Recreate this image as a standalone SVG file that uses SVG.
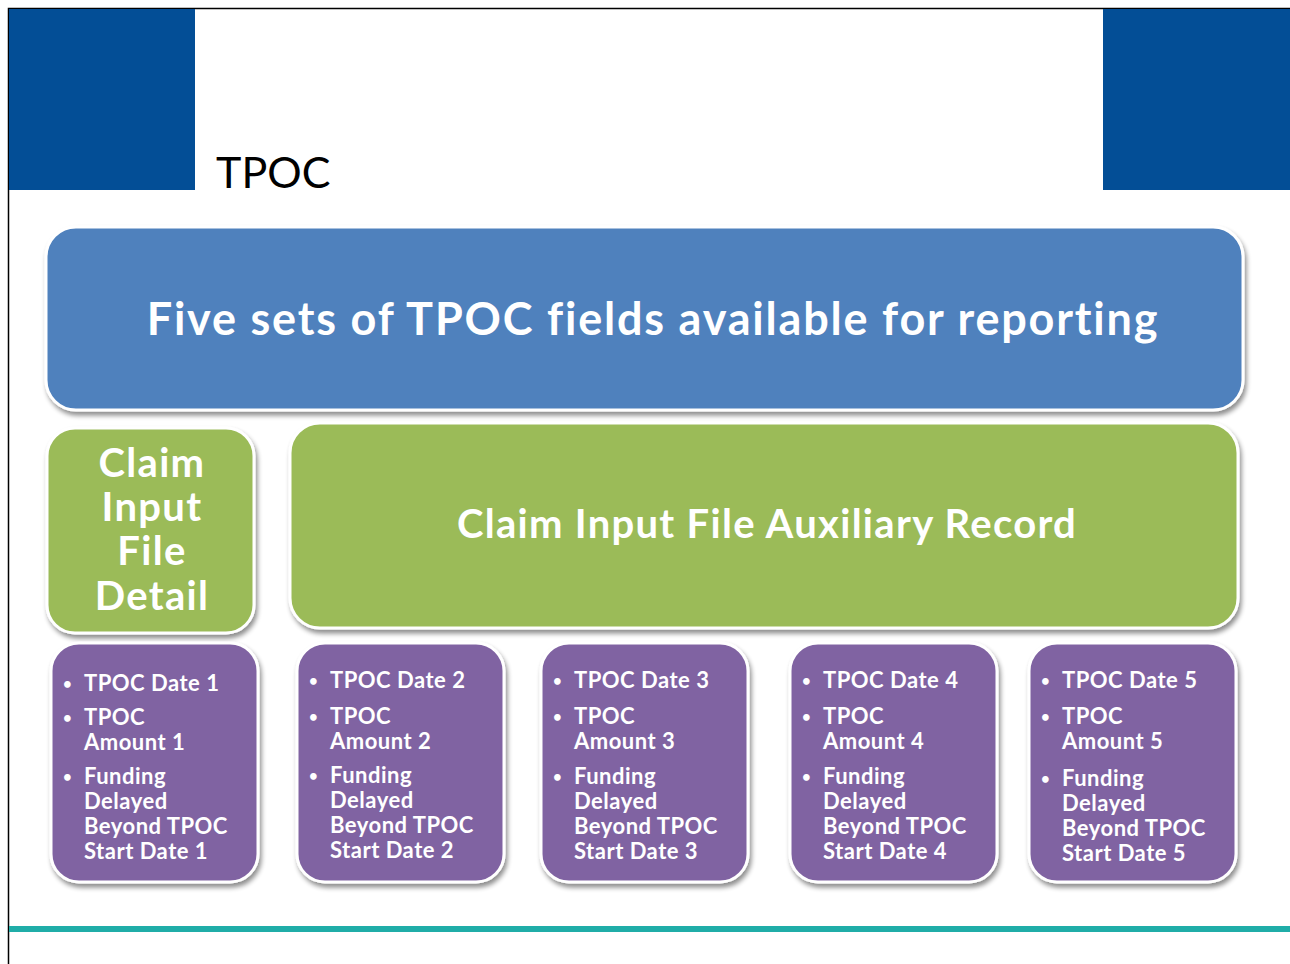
<svg xmlns="http://www.w3.org/2000/svg" width="1290" height="964" viewBox="0 0 1290 964">
<defs>
<filter id="sh" x="-10%" y="-10%" width="120%" height="125%">
<feGaussianBlur in="SourceAlpha" stdDeviation="2.5"/>
<feOffset dx="2" dy="4" result="b"/>
<feComponentTransfer><feFuncA type="linear" slope="0.45"/></feComponentTransfer>
<feMerge><feMergeNode/><feMergeNode in="SourceGraphic"/></feMerge>
</filter>
</defs>
<style>
.box{stroke:#ffffff;stroke-width:3;filter:url(#sh)}
.blue{fill:#4F81BD}
.green{fill:#9BBB59}
.purple{fill:#8064A2}
.t{font-family:Lato,"Liberation Sans",sans-serif;fill:#ffffff;font-weight:bold}
.big{font-size:45px;letter-spacing:1.8px}
.mid{font-size:40px;letter-spacing:1.3px}
.sm{font-size:22px;letter-spacing:0.5px}
.b{font-size:15px}
</style>
<rect x="0" y="0" width="1290" height="964" fill="#ffffff"/>
<rect x="8.5" y="8.5" width="1290" height="970" fill="none" stroke="#000" stroke-width="1.5"/>
<rect x="9" y="9" width="186" height="181" fill="#034E96"/>
<rect x="1103" y="9" width="187" height="181" fill="#034E96"/>
<text x="216" y="188" font-family="Lato,'Liberation Sans',sans-serif" font-size="43" fill="#000">TPOC</text>
<rect x="9" y="926" width="1281" height="6" fill="#20ADA8"/>

<g id="header">
<rect class="box blue" x="46" y="227" width="1197" height="183" rx="30"/>
<text class="t big" x="653" y="335" text-anchor="middle">Five sets of TPOC fields available for reporting</text>
</g>
<g id="detail">
<rect class="box green" x="47" y="428" width="207" height="205" rx="28"/>
<text class="t mid" text-anchor="middle"><tspan x="152" y="477">Claim</tspan><tspan x="152" y="521">Input</tspan><tspan x="152" y="565">File</tspan><tspan x="152" y="610">Detail</tspan></text>
</g>
<g id="auxiliary">
<rect class="box green" x="290" y="423" width="948" height="205" rx="30"/>
<text class="t mid" x="767" y="538" text-anchor="middle">Claim Input File Auxiliary Record</text>
</g>

<g id="set1">
<rect class="box purple" x="51" y="643" width="207" height="239" rx="28"/>
<text class="t sm"><tspan class="b" x="63" y="689">•</tspan><tspan x="84" y="691">TPOC Date 1</tspan><tspan class="b" x="63" y="723">•</tspan><tspan x="84" y="725">TPOC</tspan><tspan x="84" y="750">Amount 1</tspan><tspan class="b" x="63" y="782">•</tspan><tspan x="84" y="784">Funding</tspan><tspan x="84" y="809">Delayed</tspan><tspan x="84" y="834">Beyond TPOC</tspan><tspan x="84" y="859">Start Date 1</tspan></text>
</g>
<g id="set2">
<rect class="box purple" x="297" y="643" width="207" height="239" rx="28"/>
<text class="t sm"><tspan class="b" x="309" y="686">•</tspan><tspan x="330" y="688">TPOC Date 2</tspan><tspan class="b" x="309" y="722">•</tspan><tspan x="330" y="724">TPOC</tspan><tspan x="330" y="749">Amount 2</tspan><tspan class="b" x="309" y="781">•</tspan><tspan x="330" y="783">Funding</tspan><tspan x="330" y="808">Delayed</tspan><tspan x="330" y="833">Beyond TPOC</tspan><tspan x="330" y="858">Start Date 2</tspan></text>
</g>
<g id="set3">
<rect class="box purple" x="541" y="643" width="207" height="239" rx="28"/>
<text class="t sm"><tspan class="b" x="553" y="686">•</tspan><tspan x="574" y="688">TPOC Date 3</tspan><tspan class="b" x="553" y="722">•</tspan><tspan x="574" y="724">TPOC</tspan><tspan x="574" y="749">Amount 3</tspan><tspan class="b" x="553" y="782">•</tspan><tspan x="574" y="784">Funding</tspan><tspan x="574" y="809">Delayed</tspan><tspan x="574" y="834">Beyond TPOC</tspan><tspan x="574" y="859">Start Date 3</tspan></text>
</g>
<g id="set4">
<rect class="box purple" x="790" y="643" width="207" height="239" rx="28"/>
<text class="t sm"><tspan class="b" x="802" y="686">•</tspan><tspan x="823" y="688">TPOC Date 4</tspan><tspan class="b" x="802" y="722">•</tspan><tspan x="823" y="724">TPOC</tspan><tspan x="823" y="749">Amount 4</tspan><tspan class="b" x="802" y="782">•</tspan><tspan x="823" y="784">Funding</tspan><tspan x="823" y="809">Delayed</tspan><tspan x="823" y="834">Beyond TPOC</tspan><tspan x="823" y="859">Start Date 4</tspan></text>
</g>
<g id="set5">
<rect class="box purple" x="1029" y="643" width="207" height="239" rx="28"/>
<text class="t sm"><tspan class="b" x="1041" y="686">•</tspan><tspan x="1062" y="688">TPOC Date 5</tspan><tspan class="b" x="1041" y="722">•</tspan><tspan x="1062" y="724">TPOC</tspan><tspan x="1062" y="749">Amount 5</tspan><tspan class="b" x="1041" y="784">•</tspan><tspan x="1062" y="786">Funding</tspan><tspan x="1062" y="811">Delayed</tspan><tspan x="1062" y="836">Beyond TPOC</tspan><tspan x="1062" y="861">Start Date 5</tspan></text>
</g>
<g id="connectors"/>
</svg>
